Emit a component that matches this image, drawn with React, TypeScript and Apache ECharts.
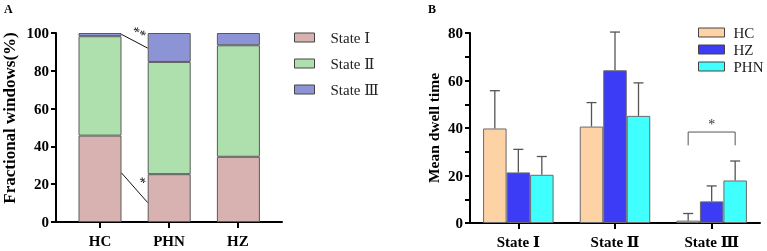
import React, { useEffect, useRef } from "react";
import * as echarts from "echarts";

// ---------- Panel A data ----------
const groupsA = ["HC", "PHN", "HZ"];
const stateNames = ["State Ⅰ", "State Ⅱ", "State Ⅲ"];
const stateI = [45.7, 25.3, 34.5];
const stateII = [52.6, 59.4, 59.0];
const stateIII = [1.7, 15.3, 6.5];

// ---------- Panel B data ----------
const statesB = ["State Ⅰ", "State Ⅱ", "State Ⅲ"];
const groupNamesB = ["HC", "HZ", "PHN"];
const hcMean = [39.8, 40.6, 1.0];
const hcUpper = [55.7, 50.7, 4.0];
const hzMean = [21.3, 64.3, 9.1];
const hzUpper = [31.0, 80.4, 15.6];
const phnMean = [20.3, 45.1, 17.9];
const phnUpper = [28.0, 59.0, 26.1];
const sigBracket = [[2, 32.7, 38.3]];

const SERIF = "'Liberation Serif', 'Times New Roman', 'DejaVu Serif', serif";

export default function App() {
  const ref = useRef<HTMLDivElement>(null);

  useEffect(() => {
    if (!ref.current) return;
    const chart = echarts.init(ref.current, undefined, { renderer: "svg" });

    const colorsA = ["#d8b2b0", "#aee0ad", "#8d94d6"];
    const colorsB = ["#fdd3a6", "#3c3cf7", "#40ffff"];
    const barWB = 23.5;

    // stacked bars live in grid 2 (category axis, hidden), aligned with visible axes of grid 0
    const stackSeries = [stateI, stateII, stateIII].map((vals, i) => ({
      name: stateNames[i],
      type: "bar",
      xAxisIndex: 2,
      yAxisIndex: 2,
      stack: "A",
      barWidth: 43,
      data: vals,
      itemStyle: { color: colorsA[i], borderColor: "#5a5a5a", borderWidth: 1 },
    }));

    const annotationSeries = {
      name: "annot",
      type: "line",
      xAxisIndex: 0,
      yAxisIndex: 0,
      data: [],
      silent: true,
      markLine: {
        silent: true,
        symbol: ["none", "none"],
        lineStyle: { color: "#111", width: 1, type: "solid" },
        label: {
          show: true,
          formatter: "{b}",
          position: "middle",
          fontFamily: SERIF,
          fontSize: 14,
          color: "#111",
          distance: 2,
        },
        data: [
          [{ name: "**", coord: [0.31, 99.3] }, { coord: [0.69, 92] }],
          [{ name: "*", coord: [0.31, 26] }, { coord: [0.69, 10.3] }],
        ],
      },
    };

    const barSeriesB = [hcMean, hzMean, phnMean].map((vals, i) => ({
      name: groupNamesB[i],
      type: "bar",
      xAxisIndex: 1,
      yAxisIndex: 1,
      barWidth: barWB,
      barGap: "0%",
      data: vals,
      itemStyle: { color: colorsB[i], borderColor: "#6a6a6a", borderWidth: 1 },
    }));

    const errSeriesB = [
      [hcMean, hcUpper],
      [hzMean, hzUpper],
      [phnMean, phnUpper],
    ].map(([m, u], i) => ({
      name: "err" + i,
      type: "custom",
      xAxisIndex: 1,
      yAxisIndex: 1,
      silent: true,
      z: 1,
      data: m.map((v, j) => [j, v, u[j]]),
      renderItem: (params: any, api: any) => {
        const base = api.coord([api.value(0), api.value(1)]);
        const top = api.coord([api.value(0), api.value(2)]);
        const x = base[0] + (i - 1) * barWB;
        const st = { stroke: "#555", lineWidth: 1.3 };
        return {
          type: "group",
          children: [
            { type: "line", shape: { x1: x, y1: base[1], x2: x, y2: top[1] }, style: st },
            { type: "line", shape: { x1: x - 5, y1: top[1], x2: x + 5, y2: top[1] }, style: st },
          ],
        };
      },
    }));

    const bracketSeries = {
      name: "sig",
      type: "custom",
      xAxisIndex: 1,
      yAxisIndex: 1,
      silent: true,
      data: sigBracket,
      renderItem: (params: any, api: any) => {
        const c = api.coord([api.value(0), api.value(1)]);
        const t = api.coord([api.value(0), api.value(2)]);
        const x1 = c[0] - barWB;
        const x2 = c[0] + barWB;
        return {
          type: "group",
          children: [
            {
              type: "polyline",
              shape: { points: [[x1, c[1]], [x1, t[1]], [x2, t[1]], [x2, c[1]]] },
              style: { stroke: "#555", lineWidth: 1, fill: "none" },
            },
            {
              type: "text",
              style: {
                text: "*",
                x: c[0],
                y: t[1] - 1,
                align: "center",
                verticalAlign: "bottom",
                fontFamily: SERIF,
                fontSize: 14,
                fill: "#333",
              },
            },
          ],
        };
      },
    };

    const axisLineStyle = { color: "#000", width: 2 };

    chart.setOption({
      animation: false,
      textStyle: { fontFamily: SERIF },
      title: [
        { text: "A", left: 4, top: 3, padding: 0, textStyle: { fontFamily: SERIF, fontSize: 12, fontWeight: "bold", color: "#000" } },
        { text: "B", left: 428, top: 3, padding: 0, textStyle: { fontFamily: SERIF, fontSize: 12, fontWeight: "bold", color: "#000" } },
      ],
      legend: [
        {
          data: stateNames,
          orient: "vertical",
          left: 294,
          top: 30,
          padding: 0,
          itemWidth: 20,
          itemHeight: 9,
          itemGap: 11,
          icon: "rect",
          selectedMode: false,
          itemStyle: { borderColor: "#444", borderWidth: 1 },
          textStyle: { fontFamily: SERIF, fontSize: 15, lineHeight: 15, color: "#222", padding: [0, 0, 0, 11] },
        },
        {
          data: groupNamesB,
          orient: "vertical",
          left: 698,
          top: 25,
          padding: 0,
          itemWidth: 26,
          itemHeight: 9,
          itemGap: 2,
          icon: "rect",
          selectedMode: false,
          itemStyle: { borderColor: "#444", borderWidth: 1 },
          textStyle: { fontFamily: SERIF, fontSize: 15, lineHeight: 15, color: "#222", padding: [0, 0, 0, 4] },
        },
      ],
      grid: [
        { left: 55, top: 33, width: 227, height: 189 },
        { left: 470, top: 33, width: 290, height: 190 },
        { left: 65.4, top: 33, width: 207.6, height: 189 },
      ],
      xAxis: [
        {
          type: "value",
          gridIndex: 0,
          min: -0.64,
          max: 2.64,
          splitLine: { show: false },
          axisLine: { show: true, onZero: false, lineStyle: axisLineStyle },
          axisTick: { show: true, customValues: [0, 1, 2], length: 6, lineStyle: axisLineStyle },
          axisLabel: {
            customValues: [0, 1, 2],
            formatter: (v: number) => groupsA[Math.round(v)],
            margin: 11,
            fontFamily: SERIF,
            fontSize: 15,
            fontWeight: "bold",
            color: "#000",
          },
        },
        {
          type: "category",
          gridIndex: 1,
          data: statesB,
          axisLine: { show: true, lineStyle: axisLineStyle },
          axisTick: { show: true, alignWithLabel: true, length: 6, lineStyle: axisLineStyle },
          axisLabel: { margin: 11, fontFamily: SERIF, fontSize: 15, fontWeight: "bold", color: "#000" },
        },
        {
          type: "category",
          gridIndex: 2,
          data: groupsA,
          show: false,
        },
      ],
      yAxis: [
        {
          type: "value",
          gridIndex: 0,
          min: 0,
          max: 100,
          interval: 20,
          splitLine: { show: false },
          axisLine: { show: true, onZero: false, lineStyle: axisLineStyle },
          axisTick: { show: true, length: 5, lineStyle: axisLineStyle },
          axisLabel: { margin: 7, fontFamily: SERIF, fontSize: 15, fontWeight: "bold", color: "#000" },
          name: "Fractional windows(%)",
          nameLocation: "middle",
          nameGap: 38,
          nameTextStyle: { fontFamily: SERIF, fontSize: 17, fontWeight: "bold", color: "#000", padding: [0, 0, 0, 19] },
        },
        {
          type: "value",
          gridIndex: 1,
          min: 0,
          max: 80,
          interval: 20,
          splitLine: { show: false },
          axisLine: { show: true, lineStyle: axisLineStyle },
          axisTick: { show: true, length: 5, lineStyle: axisLineStyle },
          minorTick: { show: true, splitNumber: 2, length: 5, lineStyle: { color: "#000", width: 2 } },
          axisLabel: { margin: 7, fontFamily: SERIF, fontSize: 15, fontWeight: "bold", color: "#000" },
          name: "Mean dwell time",
          nameLocation: "middle",
          nameGap: 29,
          nameTextStyle: { fontFamily: SERIF, fontSize: 15.5, fontWeight: "bold", color: "#000" },
        },
        {
          type: "value",
          gridIndex: 2,
          min: 0,
          max: 100,
          show: false,
          splitLine: { show: false },
        },
      ],
      series: [...stackSeries, annotationSeries, ...barSeriesB, ...errSeriesB, bracketSeries],
    });

    return () => chart.dispose();
  }, []);

  return <div ref={ref} style={{ position: "fixed", left: 0, top: 0, width: 767, height: 251 }} />;
}
